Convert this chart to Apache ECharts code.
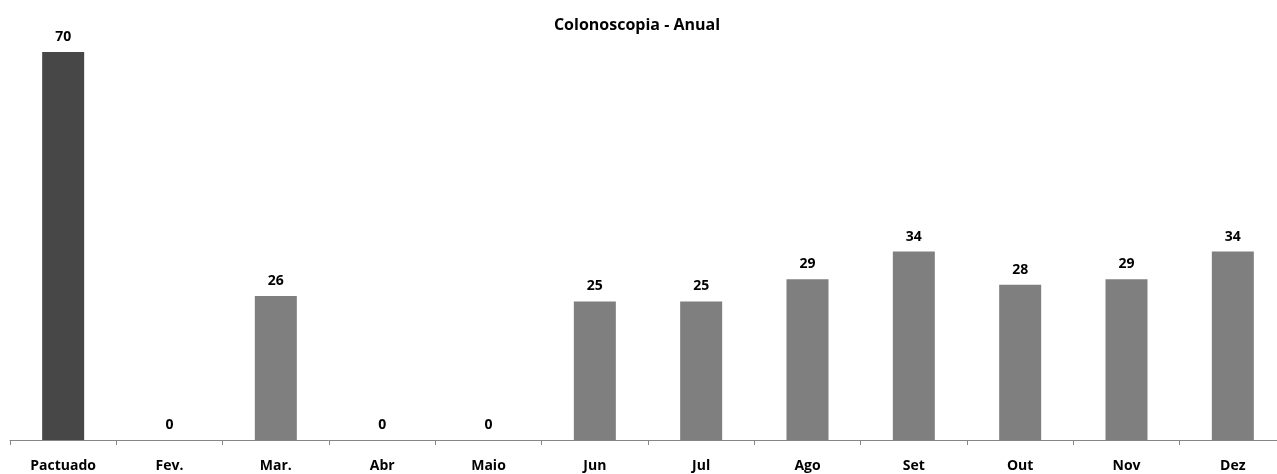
<!DOCTYPE html>
<html><head><meta charset="utf-8">
<script src="https://cdn.jsdelivr.net/npm/echarts@6/dist/echarts.min.js"></script>
<style>html,body{margin:0;padding:0;background:#fff;overflow:hidden;width:1277px;height:474px}#c{width:1286px;height:474px}</style>
</head><body><div id="c"></div>
<script>
var categories = ['Pactuado','Fev.','Mar.','Abr','Maio','Jun','Jul','Ago','Set','Out','Nov','Dez'];
var values = [70,0,26,0,0,25,25,29,34,28,29,34];
var chart = echarts.init(document.getElementById('c'));
chart.setOption({
  animation:false,
  title:{text:'Colonoscopia - Anual',left:632,top:12,textAlign:'center',
    textStyle:{fontFamily:'Open Sans',fontWeight:'bold',fontSize:16,color:'#000'}},
  grid:{left:10,top:52,right:0,height:388},
  xAxis:{type:'category',data:categories,
    axisLine:{lineStyle:{color:'#868686',width:1}},
    axisTick:{show:true,length:5,lineStyle:{color:'#868686'}},
    axisLabel:{interval:0,margin:19,color:'#000',fontFamily:'Open Sans',fontWeight:'bold',fontSize:14}},
  yAxis:{type:'value',min:0,max:70,show:false,splitLine:{show:false}},
  series:[{type:'bar',barWidth:42,
    data:values.map(function(v,i){return {value:v,itemStyle:{color:i===0?'#474747':'#7f7f7f'}};}),
    label:{show:true,position:'top',distance:8,color:'#000',fontFamily:'Open Sans',fontWeight:'bold',fontSize:14}}]
});
</script></body></html>
